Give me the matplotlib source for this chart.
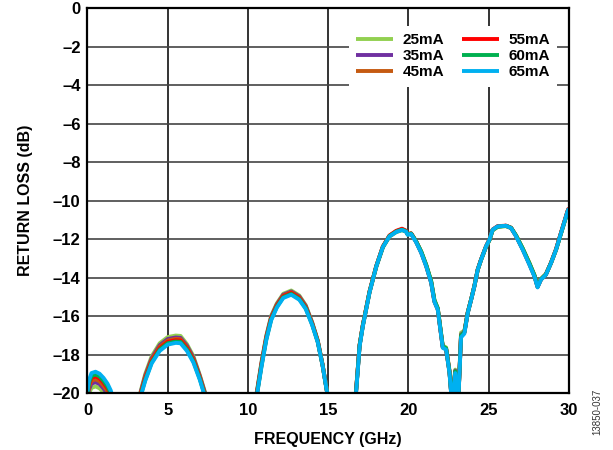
import numpy as np
import matplotlib

matplotlib.use("Agg")
import matplotlib.pyplot as plt
from matplotlib.ticker import FuncFormatter, MultipleLocator

# frequency points (GHz); None separates the visible pieces of the curves
freq_ghz = (
    [0.0, 0.1, 0.25, 0.5, 0.75, 1.0, 1.25, 1.45, 1.6]
    + [None]
    + [3.2, 3.6, 4.0, 4.5, 5.0, 5.5, 5.8, 6.2, 6.6, 7.0, 7.4]
    + [None]
    + [10.5, 10.85, 11.15, 11.45, 11.8, 12.2, 12.7, 13.2, 13.6, 14.0, 14.35, 14.65, 15.0]
    + [None]
    + [16.7, 16.96, 17.16, 17.58, 18.0, 18.41, 18.82, 19.24, 19.6, 19.85, 19.96, 20.17,
       20.48, 20.8, 21.11, 21.42, 21.62, 21.83, 22.14, 22.35, 22.56, 22.72, 22.92, 23.1,
       23.28, 23.49, 23.7, 23.91, 24.11, 24.32, 24.53, 24.84, 25.05, 25.25, 25.56, 26.08,
       26.4, 26.71, 27.12, 27.54, 27.85, 28.05, 28.26, 28.57, 28.89, 29.2, 29.51, 29.92, 30.0]
)

# return loss (dB) per bias current
rl_25ma = (
    [-20.3, -20.0, -19.72, -19.64, -19.74, -19.95, -20.25, -20.5, -20.8]
    + [None]
    + [-20.25, -19.0, -18.08, -17.4, -17.08, -17.0, -17.02, -17.45, -18.07, -19.05, -20.15]
    + [None]
    + [-20.2, -18.35, -16.98, -15.97, -15.33, -14.83, -14.66, -14.92, -15.42, -16.3, -17.25, -18.5, -20.25]
    + [None]
    + [-20.25, -17.5, -16.5, -14.75, -13.43, -12.42, -11.86, -11.63, -11.53, -11.6, -11.76, -11.72,
       -12.12, -12.66, -13.34, -14.18, -15.15, -15.58, -17.52, -17.62, -18.8, -20.45, -18.77, -20.45,
       -16.85, -16.75, -15.78, -15.12, -14.45, -13.6, -13.08, -12.4, -12.05, -11.54, -11.36, -11.32,
       -11.42, -11.8, -12.46, -13.22, -13.84, -14.42, -14.05, -13.8, -13.22, -12.55, -11.7, -10.58, -10.43]
)
rl_35ma = (
    [-20.15, -19.8, -19.5, -19.42, -19.52, -19.75, -20.05, -20.35, -20.7]
    + [None]
    + [-20.3, -19.08, -18.18, -17.5, -17.18, -17.1, -17.12, -17.53, -18.15, -19.1, -20.2]
    + [None]
    + [-20.25, -18.4, -17.03, -16.02, -15.38, -14.88, -14.71, -14.97, -15.46, -16.33, -17.27, -18.51, -20.26]
    + [None]
    + [-20.3, -17.52, -16.48, -14.73, -13.4, -12.39, -11.83, -11.6, -11.5, -11.58, -11.75, -11.71,
       -12.13, -12.69, -13.39, -14.25, -15.23, -15.64, -17.6, -17.7, -18.86, -20.5, -18.82, -20.5,
       -16.95, -16.8, -15.8, -15.13, -14.44, -13.57, -13.05, -12.37, -12.02, -11.5, -11.33, -11.3,
       -11.41, -11.83, -12.51, -13.29, -13.9, -14.47, -14.09, -13.83, -13.22, -12.53, -11.67, -10.54, -10.39]
)
rl_45ma = (
    [-20.1, -19.65, -19.35, -19.27, -19.37, -19.6, -19.9, -20.2, -20.6]
    + [None]
    + [-20.35, -19.15, -18.25, -17.58, -17.26, -17.17, -17.19, -17.6, -18.22, -19.15, -20.25]
    + [None]
    + [-20.3, -18.45, -17.08, -16.07, -15.42, -14.92, -14.75, -15.01, -15.5, -16.36, -17.29, -18.52, -20.27]
    + [None]
    + [-20.3, -17.5, -16.47, -14.72, -13.4, -12.38, -11.82, -11.58, -11.48, -11.57, -11.74, -11.7,
       -12.12, -12.68, -13.38, -14.24, -15.22, -15.63, -17.6, -17.7, -18.88, -20.55, -18.86, -20.55,
       -17.0, -16.83, -15.81, -15.13, -14.44, -13.57, -13.05, -12.37, -12.02, -11.5, -11.33, -11.3,
       -11.41, -11.83, -12.51, -13.28, -13.9, -14.47, -14.09, -13.83, -13.22, -12.53, -11.67, -10.54, -10.39]
)
rl_55ma = (
    [-20.05, -19.55, -19.2, -19.12, -19.22, -19.45, -19.75, -20.1, -20.5]
    + [None]
    + [-20.4, -19.23, -18.33, -17.66, -17.33, -17.24, -17.26, -17.66, -18.28, -19.2, -20.3]
    + [None]
    + [-20.33, -18.5, -17.12, -16.11, -15.46, -14.96, -14.79, -15.05, -15.54, -16.39, -17.31, -18.53, -20.28]
    + [None]
    + [-20.3, -17.48, -16.45, -14.7, -13.38, -12.37, -11.8, -11.56, -11.45, -11.55, -11.72, -11.69,
       -12.1, -12.66, -13.36, -14.22, -15.2, -15.62, -17.6, -17.7, -18.9, -20.55, -18.9, -20.55,
       -17.02, -16.84, -15.8, -15.12, -14.43, -13.57, -13.05, -12.36, -12.01, -11.5, -11.32, -11.29,
       -11.4, -11.82, -12.5, -13.27, -13.88, -14.46, -14.08, -13.82, -13.21, -12.52, -11.66, -10.53, -10.38]
)
rl_60ma = (
    [-20.0, -19.45, -19.1, -19.02, -19.12, -19.35, -19.65, -20.0, -20.4]
    + [None]
    + [-20.45, -19.3, -18.4, -17.73, -17.4, -17.31, -17.33, -17.73, -18.34, -19.25, -20.35]
    + [None]
    + [-20.37, -18.55, -17.17, -16.16, -15.51, -15.01, -14.84, -15.1, -15.58, -16.42, -17.33, -18.54, -20.29]
    + [None]
    + [-20.35, -17.5, -16.47, -14.72, -13.4, -12.4, -11.83, -11.6, -11.5, -11.58, -11.74, -11.7,
       -12.1, -12.63, -13.32, -14.17, -15.15, -15.58, -17.55, -17.66, -18.88, -20.55, -18.86, -20.55,
       -17.0, -16.82, -15.8, -15.12, -14.43, -13.58, -13.06, -12.38, -12.04, -11.52, -11.35, -11.3,
       -11.4, -11.8, -12.47, -13.24, -13.86, -14.45, -14.07, -13.82, -13.22, -12.55, -11.7, -10.58, -10.43]
)
rl_65ma = (
    [-19.9, -19.3, -18.95, -18.88, -18.98, -19.2, -19.5, -19.85, -20.3]
    + [None]
    + [-20.5, -19.35, -18.45, -17.8, -17.47, -17.38, -17.4, -17.8, -18.4, -19.3, -20.4]
    + [None]
    + [-20.4, -18.6, -17.21, -16.2, -15.55, -15.05, -14.88, -15.14, -15.62, -16.45, -17.35, -18.55, -20.3]
    + [None]
    + [-20.4, -17.56, -16.52, -14.75, -13.41, -12.4, -11.85, -11.62, -11.52, -11.6, -11.77, -11.73,
       -12.15, -12.71, -13.41, -14.27, -15.25, -15.66, -17.64, -17.73, -18.94, -20.6, -18.95, -20.6,
       -17.1, -16.9, -15.83, -15.14, -14.45, -13.58, -13.06, -12.37, -12.02, -11.5, -11.33, -11.3,
       -11.42, -11.85, -12.54, -13.32, -13.93, -14.5, -14.1, -13.84, -13.23, -12.54, -11.68, -10.55, -10.4]
)

labels = ["25mA", "35mA", "45mA", "55mA", "60mA", "65mA"]
colors = ["#92D050", "#7030A0", "#C55A11", "#FF0000", "#00B050", "#00B0F0"]
series = [rl_25ma, rl_35ma, rl_45ma, rl_55ma, rl_60ma, rl_65ma]

plt.rcParams["font.family"] = ["Liberation Sans", "DejaVu Sans"]

fig = plt.figure(figsize=(6.13, 4.5), dpi=100)
ax = fig.add_axes([0.1427, 0.126, 0.928 - 0.1427, 0.9816 - 0.126])

x = np.array(freq_ghz, dtype=float)
for vals, lab, col in zip(series, labels, colors):
    ax.plot(x, np.array(vals, dtype=float), color=col, lw=2.8, label=lab,
            solid_capstyle="butt", zorder=3)

ax.set_xlim(0, 30)
ax.set_ylim(-20, 0)
ax.xaxis.set_major_locator(MultipleLocator(5))
ax.yaxis.set_major_locator(MultipleLocator(2))
fmt = FuncFormatter(lambda v, p: f"{v:g}".replace("-", "\u2013"))
ax.xaxis.set_major_formatter(fmt)
ax.yaxis.set_major_formatter(fmt)
ax.tick_params(length=0, labelsize=12)
ax.tick_params(axis="x", pad=7)
ax.tick_params(axis="y", pad=5)
for t in ax.get_xticklabels() + ax.get_yticklabels():
    t.set_fontweight("bold")

ax.grid(axis="x", color="#111111", lw=1.2, zorder=1)
ax.grid(axis="y", color="#444444", lw=1.2, zorder=1)
for s in ax.spines.values():
    s.set_linewidth(1.6)
    s.set_color("black")
    s.set_zorder(4)

ax.set_xlabel("FREQUENCY (GHz)", fontsize=11.5, fontweight="bold")
ax.xaxis.set_label_coords(0.5, -0.12)
ax.xaxis.label.set_va("center")
ax.set_ylabel("RETURN LOSS (dB)", fontsize=11.5, fontweight="bold")
ax.yaxis.set_label_coords(-0.128, 0.5)
ax.yaxis.label.set_va("center")

leg = ax.legend(ncol=2, loc="upper right", bbox_to_anchor=(0.976, 0.955),
                prop={"weight": "bold", "size": 11},
                handlelength=2.4, handletextpad=0.6, columnspacing=1.2,
                labelspacing=0.12, borderpad=0.5, borderaxespad=0,
                frameon=True, fancybox=False)
leg.get_frame().set_facecolor("white")
leg.get_frame().set_edgecolor("none")
leg.get_frame().set_alpha(1)
leg.set_zorder(5)

fig.text(0.975, 1 - 412 / 450, "13850-037", rotation=90, fontsize=7,
         color="#333333", ha="center", va="center")

fig.savefig("out.png", dpi=100)
